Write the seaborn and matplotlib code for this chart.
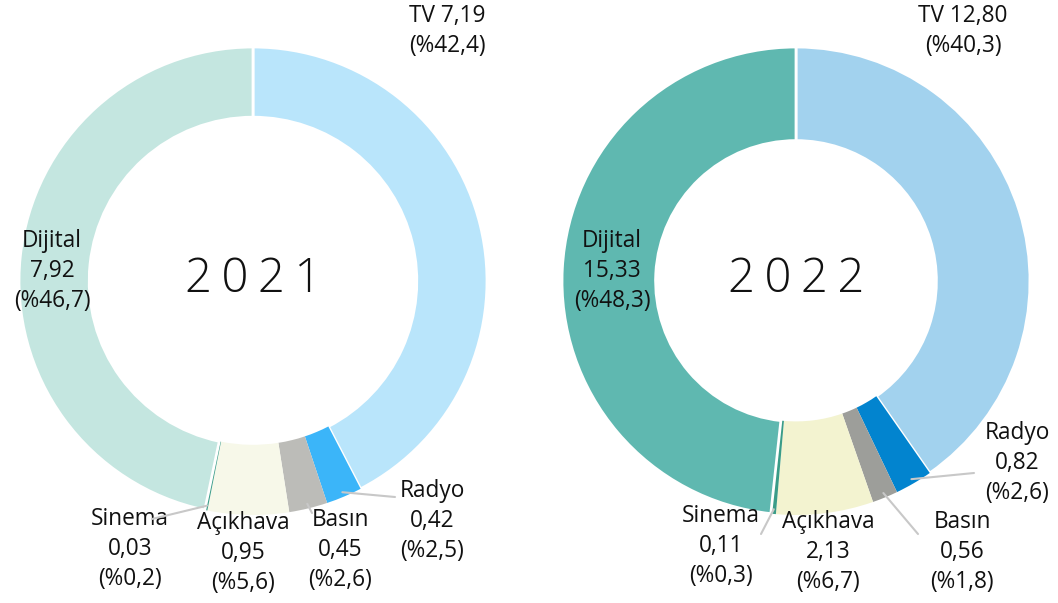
import numpy as np
import matplotlib.pyplot as plt
import seaborn as sns

# data (milyar TL)
categories = ["TV", "Radyo", "Basın", "Açıkhava", "Sinema", "Dijital"]
spend_2021 = [7.19, 0.42, 0.45, 0.95, 0.03, 7.92]
share_2021 = [42.4, 2.5, 2.6, 5.6, 0.2, 46.7]
spend_2022 = [12.80, 0.82, 0.56, 2.13, 0.11, 15.33]
share_2022 = [40.3, 2.6, 1.8, 6.7, 0.3, 48.3]

colors_2021 = ["#b9e5fb", "#3bb5f9", "#bcbcb8", "#f7f8e9", "#3a9c88", "#c4e6e0"]
colors_2022 = ["#a2d2ee", "#0284cf", "#9d9e9a", "#f3f3d0", "#3a9c88", "#5fb8b0"]

sns.set_theme(style="white")
plt.rcParams["font.family"] = ["Open Sans", "DejaVu Sans"]

W, H = 1058, 603
R = 234

fig = plt.figure(figsize=(W / 100, H / 100), dpi=100)


def fmt(v, d):
    return f"{v:.{d}f}".replace(".", ",")


# layout in pixels: centre, ring width, label centres, leader line ends
charts = [
    dict(year="2021", vals=spend_2021, shares=share_2021, colors=colors_2021,
         cx=253, cy=281, width=0.30,
         labels={"TV": (447, 31), "Dijital": (52, 271), "Sinema": (130, 549),
                 "Açıkhava": (243, 553), "Basın": (340, 550), "Radyo": (432, 521)},
         leaders={"Sinema": (152, 519), "Basın": (312, 513), "Radyo": (395, 497)}),
    dict(year="2022", vals=spend_2022, shares=share_2022, colors=colors_2022,
         cx=796, cy=281, width=0.40,
         labels={"TV": (963, 31), "Dijital": (612, 271), "Sinema": (721, 546),
                 "Açıkhava": (828, 552), "Basın": (962, 552), "Radyo": (1017, 463)},
         leaders={"Sinema": (761, 534), "Basın": (918, 534), "Radyo": (974, 473)}),
]

for c in charts:
    cx, cy = c["cx"], c["cy"]
    ax = fig.add_axes([(cx - R) / W, (H - cy - R) / H, 2 * R / W, 2 * R / H])
    wedges, _ = ax.pie(c["vals"], startangle=90, counterclock=False, radius=1,
                       colors=c["colors"],
                       wedgeprops=dict(width=c["width"], linewidth=0))
    # white separators only where the original has them
    for i in (0, 5):
        wedges[i].set_edgecolor("white")
        wedges[i].set_linewidth(2)
    ax.set_xlim(-1, 1)
    ax.set_ylim(-1, 1)
    ax.set_aspect("equal")
    ax.axis("off")

    def to_data(p):
        return (p[0] - cx) / R, (cy - p[1]) / R

    ax.text(0, 0.005, "\u2009".join(c["year"]), ha="center", va="center",
            fontsize=34, fontweight="light", color="#111111")

    for i, name in enumerate(categories):
        v, s = fmt(c["vals"][i], 2), fmt(c["shares"][i], 1)
        if name == "TV":
            txt = f"TV {v}\n(%{s})"
        else:
            txt = f"{name}\n{v}\n(%{s})"
        x, y = to_data(c["labels"][name])
        ax.text(x, y, txt, ha="center", va="center", fontsize=16.3,
                linespacing=1.36, color="#111111", clip_on=False)
        if name in c["leaders"]:
            w = wedges[i]
            ang = np.deg2rad((w.theta1 + w.theta2) / 2)
            x0, y0 = 0.98 * np.cos(ang), 0.98 * np.sin(ang)
            x1, y1 = to_data(c["leaders"][name])
            ax.plot([x0, x1], [y0, y1], color="#c8c8c8", lw=1.5,
                    clip_on=False, zorder=3)

fig.savefig("out.png", dpi=100)
